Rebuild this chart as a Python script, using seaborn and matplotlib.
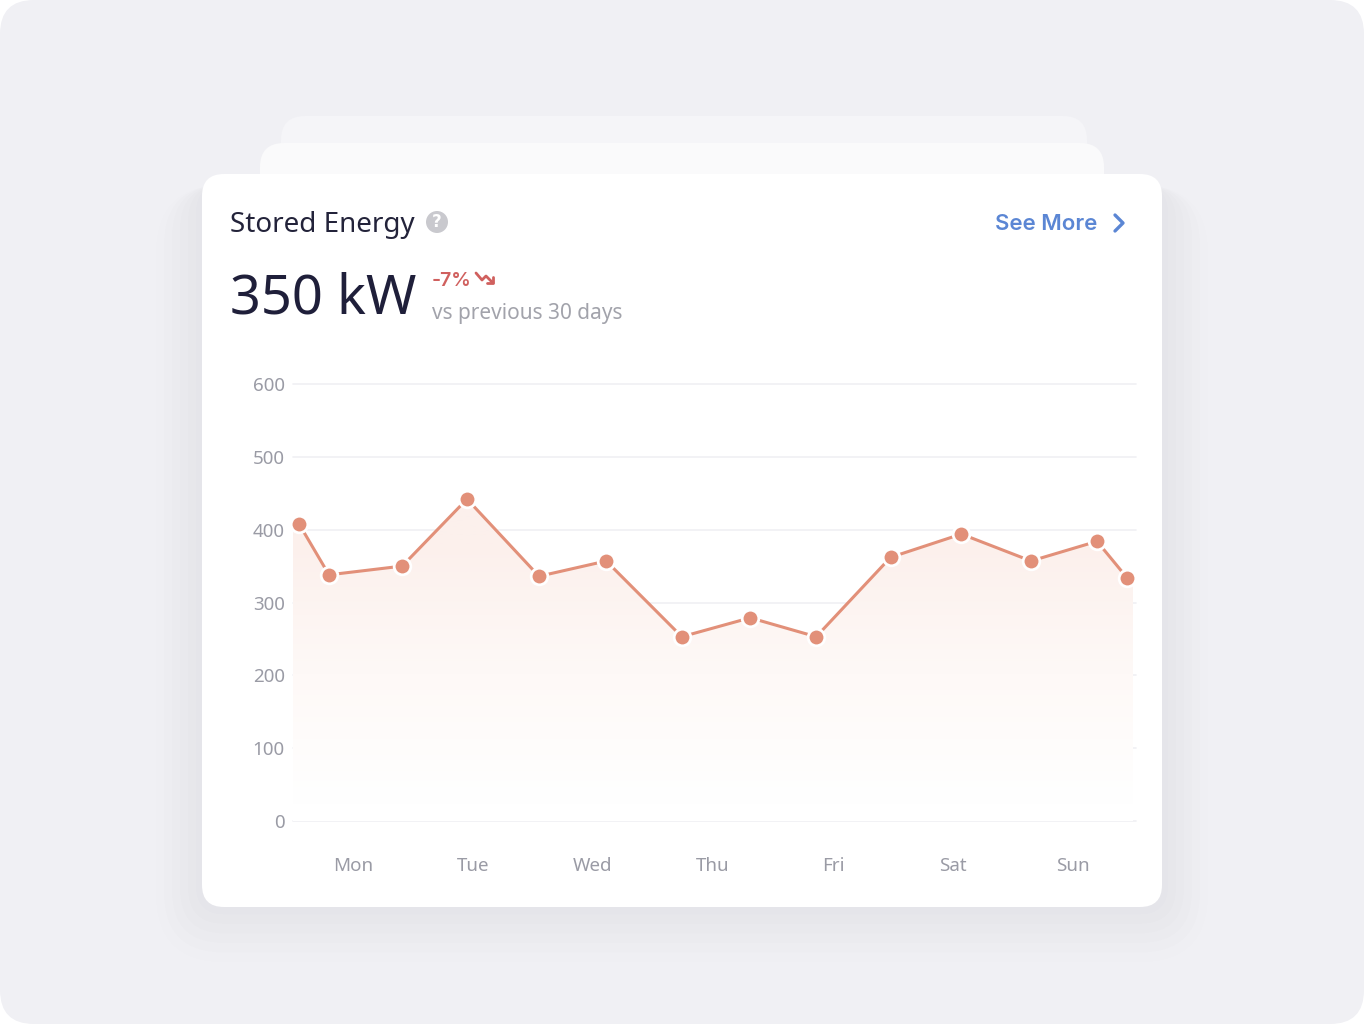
import numpy as np
import matplotlib
matplotlib.use('Agg')
import matplotlib.pyplot as plt
import seaborn as sns
from matplotlib.patches import FancyBboxPatch, Ellipse, Polygon
from matplotlib.colors import LinearSegmentedColormap

# data
days = ["Mon", "Tue", "Wed", "Thu", "Fri", "Sat", "Sun"]
day_pos = [0.5, 1.5, 2.5, 3.5, 4.5, 5.5, 6.5]
x_pos = [0.05, 0.30, 0.91, 1.45, 2.05, 2.61, 3.24, 3.81, 4.36, 4.98, 5.57, 6.15, 6.70, 6.95]
energy = [408, 338, 350, 442, 336, 357, 253, 279, 253, 362, 394, 357, 384, 334]
y_ticks = [0, 100, 200, 300, 400, 500, 600]

W, H = 1364, 1024
sns.set_theme(style="white")
plt.rcParams['font.family'] = ['Noto Sans', 'DejaVu Sans']

fig = plt.figure(figsize=(W / 100, H / 100), dpi=100)
fig.patch.set_facecolor("white")


def fx(x):
    return x / W


def fy(y):
    return 1 - y / H


def rrect(x0, y0, x1, y1, r, color, z, alpha=1.0):
    p = FancyBboxPatch((fx(x0), fy(y1)), fx(x1 - x0), (y1 - y0) / H,
                       boxstyle=f"round,pad=0,rounding_size={r / W}",
                       transform=fig.transFigure, facecolor=color, edgecolor="none",
                       alpha=alpha, zorder=z, mutation_aspect=W / H)
    fig.patches.append(p)


# background and stacked cards
rrect(0, 0, W, H, 34, "#F0F0F4", 0)
rrect(281, 116, 1087, 300, 24, "#F5F5F8", 1)
rrect(260, 143, 1104, 300, 24, "#FAFAFB", 2)
# soft shadow under main card
for i, a in enumerate([0.010, 0.009, 0.008, 0.007, 0.006, 0.005]):
    d = 6 + i * 8
    rrect(202 - d, 185, 1162 + d, 907 + d * 1.2, 22 + d, "#50506E", 3, a)
rrect(202, 174, 1162, 907, 22, "white", 4)

# header texts
fig.text(fx(230), fy(225), "Stored Energy", fontsize=20, color="#23233A",
         va="center", ha="left", zorder=10)
fig.patches.append(Ellipse((fx(437), fy(222)), 22 / W, 22 / H, transform=fig.transFigure,
                           facecolor="#C9C9CE", edgecolor="none", zorder=10))
fig.text(fx(437), fy(222), "?", fontsize=12, color="white", fontweight="bold",
         family=["DejaVu Sans"], ha="center", va="center", zorder=11)
fig.text(fx(1097), fy(224), "See More", fontsize=16, color="#5B86D4", fontweight="semibold",
         family=["Inter", "DejaVu Sans"], ha="right", va="center", zorder=10)
fig.add_artist(plt.Line2D([fx(1115), fx(1123), fx(1115)], [fy(215), fy(223), fy(231)],
                          color="#5B86D4", lw=2.4, solid_capstyle="round",
                          solid_joinstyle="round", zorder=10))
fig.text(fx(230), fy(299), "350 kW", fontsize=39, color="#1F1F3A",
         ha="left", va="center", zorder=10)
fig.text(fx(432), fy(281), "-7%", fontsize=14, color="#D0605E", fontweight="semibold",
         family=["Inter", "DejaVu Sans"], ha="left", va="center", zorder=10)
fig.add_artist(plt.Line2D([fx(476), fx(482), fx(486), fx(493)],
                          [fy(273), fy(280), fy(276), fy(283)],
                          color="#D0605E", lw=2, solid_capstyle="round",
                          solid_joinstyle="round", zorder=10))
fig.add_artist(plt.Line2D([fx(487), fx(493), fx(493)], [fy(283), fy(283), fy(277)],
                          color="#D0605E", lw=2, solid_capstyle="round",
                          solid_joinstyle="round", zorder=10))
fig.text(fx(432), fy(313), "vs previous 30 days", fontsize=15, color="#A2A3AB",
         ha="left", va="center", zorder=10)

# chart axes
ax = fig.add_axes([fx(293), fy(821), fx(1133 - 293), (821 - 384) / H], zorder=8)
ax.set_facecolor("none")
ax.set_xlim(0, 7)
ax.set_ylim(0, 600)

for t in y_ticks:
    ax.axhline(t, color="#F0F0F3", lw=1.2, zorder=1, xmax=1.003, clip_on=False)

# gradient fill under the line
fx_pts = np.r_[0, x_pos, 7]
fy_pts = np.r_[energy[0], energy, energy[-1]]
poly = Polygon(np.c_[np.r_[fx_pts, 7, 0], np.r_[fy_pts, 0, 0]], closed=True,
               facecolor="none", edgecolor="none")
ax.add_patch(poly)
cmap = LinearSegmentedColormap.from_list("fade", ["#FFFFFF", "#FEF9F7", "#FCF0EC"])
grad = np.linspace(0, 1, 256).reshape(-1, 1)
grad = np.clip((grad - 0.05) / 0.8, 0, 1)
im = ax.imshow(grad, extent=[0, 7, 0, 450], origin="lower", aspect="auto",
               cmap=cmap, vmin=0, vmax=1, zorder=2)
im.set_clip_path(poly)

sns.lineplot(x=x_pos, y=energy, ax=ax, color="#E29079", lw=2.2, marker="o",
             markersize=12, markeredgecolor="white", markeredgewidth=2,
             sort=False, zorder=5, clip_on=False)

ax.set_yticks(y_ticks)
ax.set_yticklabels([str(t) for t in y_ticks])
ax.set_xticks(day_pos)
ax.set_xticklabels(days)
ax.tick_params(axis="y", length=0, pad=6, labelsize=13.5, labelcolor="#9A9BA5")
ax.tick_params(axis="x", length=0, pad=26, labelsize=13.5, labelcolor="#9A9BA5")
for s in ax.spines.values():
    s.set_visible(False)
ax.grid(False)

fig.savefig("out.png", dpi=100, facecolor=fig.get_facecolor())
